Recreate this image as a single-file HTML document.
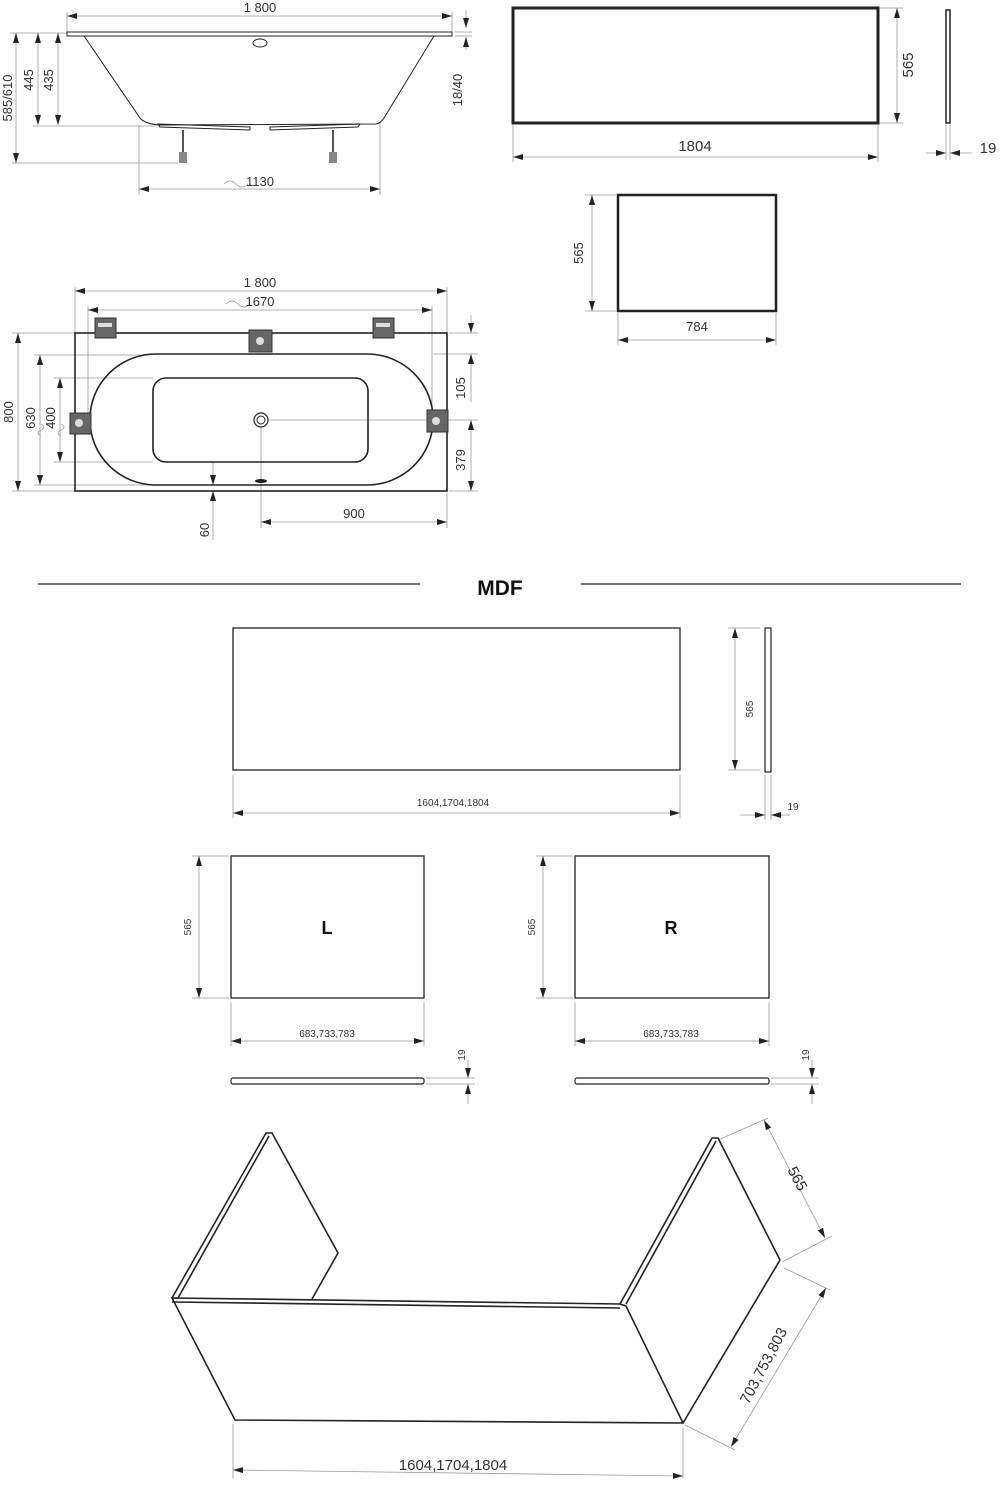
<!DOCTYPE html>
<html><head><meta charset="utf-8"><style>
body{margin:0;background:#fff}
svg{display:block}
text{font-family:"Liberation Sans",sans-serif;fill:#333}
.d{stroke:#999;stroke-width:0.8;fill:none}
.o{stroke:#222;stroke-width:1.6;fill:none}
.t{font-size:13px}
.s{font-size:10px}
</style></head><body>
<svg width="1000" height="1501" viewBox="0 0 1000 1501">
<defs>
<marker id="a" viewBox="0 0 10 6" refX="10" refY="3" markerWidth="10" markerHeight="6" orient="auto-start-reverse" markerUnits="userSpaceOnUse"><path d="M0,0L10,3L0,6z" fill="#222"/></marker>
</defs>
<g class="d">
<line x1="67" y1="16" x2="452" y2="16" marker-start="url(#a)" marker-end="url(#a)"/>
<line x1="67" y1="12" x2="67" y2="33"/><line x1="452" y1="12" x2="452" y2="33"/>
<line x1="10" y1="33" x2="67" y2="33"/>
<line x1="16" y1="33" x2="16" y2="163" marker-start="url(#a)" marker-end="url(#a)"/>
<line x1="12" y1="163" x2="178" y2="163"/>
<line x1="38" y1="33" x2="38" y2="125" marker-start="url(#a)" marker-end="url(#a)"/>
<line x1="58" y1="33" x2="58" y2="125" marker-start="url(#a)" marker-end="url(#a)"/>
<line x1="33" y1="126" x2="155" y2="126"/>
<line x1="466" y1="10" x2="466" y2="28" marker-end="url(#a)"/><line x1="466" y1="50" x2="466" y2="37" marker-end="url(#a)"/>
<line x1="455" y1="32" x2="472" y2="32"/><line x1="455" y1="36" x2="472" y2="36"/>
<line x1="139" y1="125" x2="139" y2="195"/><line x1="380" y1="122" x2="380" y2="195"/>
<line x1="139" y1="189" x2="380" y2="189" marker-start="url(#a)" marker-end="url(#a)"/>
<line x1="513" y1="125" x2="513" y2="162"/><line x1="878" y1="125" x2="878" y2="162"/>
<line x1="513" y1="157" x2="878" y2="157" marker-start="url(#a)" marker-end="url(#a)"/>
<line x1="880" y1="8" x2="903" y2="8"/><line x1="880" y1="123" x2="903" y2="123"/>
<line x1="897" y1="8" x2="897" y2="123" marker-start="url(#a)" marker-end="url(#a)"/>
<line x1="946" y1="125" x2="946" y2="160"/><line x1="950" y1="125" x2="950" y2="160"/>
<line x1="926" y1="153" x2="946" y2="153" marker-end="url(#a)"/><line x1="972" y1="153" x2="950" y2="153" marker-end="url(#a)"/>
<line x1="585" y1="195" x2="616" y2="195"/><line x1="585" y1="311" x2="616" y2="311"/>
<line x1="592" y1="195" x2="592" y2="311" marker-start="url(#a)" marker-end="url(#a)"/>
<line x1="618" y1="313" x2="618" y2="345"/><line x1="776" y1="313" x2="776" y2="345"/>
<line x1="618" y1="340" x2="776" y2="340" marker-start="url(#a)" marker-end="url(#a)"/>
<line x1="75" y1="287" x2="75" y2="333"/><line x1="447" y1="287" x2="447" y2="333"/>
<line x1="75" y1="291" x2="447" y2="291" marker-start="url(#a)" marker-end="url(#a)"/>
<line x1="88" y1="306" x2="88" y2="420"/><line x1="432" y1="306" x2="432" y2="410"/>
<line x1="88" y1="310" x2="432" y2="310" marker-start="url(#a)" marker-end="url(#a)"/>
<line x1="12" y1="333" x2="75" y2="333"/><line x1="12" y1="491" x2="75" y2="491"/>
<line x1="18" y1="333" x2="18" y2="491" marker-start="url(#a)" marker-end="url(#a)"/>
<line x1="34" y1="355" x2="150" y2="355"/><line x1="34" y1="485" x2="150" y2="485"/>
<line x1="40" y1="355" x2="40" y2="485" marker-start="url(#a)" marker-end="url(#a)"/>
<line x1="54" y1="378" x2="153" y2="378"/><line x1="54" y1="462" x2="153" y2="462"/>
<line x1="60" y1="378" x2="60" y2="462" marker-start="url(#a)" marker-end="url(#a)"/>
<line x1="449" y1="333" x2="478" y2="333"/><line x1="433" y1="354" x2="478" y2="354"/>
<line x1="471" y1="315" x2="471" y2="333" marker-end="url(#a)"/><line x1="471" y1="402" x2="471" y2="354" marker-end="url(#a)"/>
<line x1="268" y1="420" x2="478" y2="420"/><line x1="449" y1="491" x2="478" y2="491"/>
<line x1="471" y1="420" x2="471" y2="491" marker-start="url(#a)" marker-end="url(#a)"/>
<line x1="261" y1="428" x2="261" y2="528"/><line x1="447" y1="493" x2="447" y2="528"/>
<line x1="261" y1="522" x2="447" y2="522" marker-start="url(#a)" marker-end="url(#a)"/>
<line x1="213" y1="462" x2="213" y2="485" marker-end="url(#a)"/><line x1="213" y1="540" x2="213" y2="491" marker-end="url(#a)"/>
<line x1="233" y1="775" x2="233" y2="818"/><line x1="680" y1="775" x2="680" y2="818"/>
<line x1="233" y1="813" x2="680" y2="813" marker-start="url(#a)" marker-end="url(#a)"/>
<line x1="728" y1="628" x2="760" y2="628"/><line x1="728" y1="770" x2="760" y2="770"/>
<line x1="735" y1="628" x2="735" y2="770" marker-start="url(#a)" marker-end="url(#a)"/>
<line x1="765" y1="775" x2="765" y2="820"/><line x1="771" y1="775" x2="771" y2="820"/>
<line x1="740" y1="815" x2="765" y2="815" marker-end="url(#a)"/><line x1="790" y1="815" x2="771" y2="815" marker-end="url(#a)"/>
<line x1="192" y1="856" x2="229" y2="856"/><line x1="192" y1="998" x2="229" y2="998"/>
<line x1="199" y1="856" x2="199" y2="998" marker-start="url(#a)" marker-end="url(#a)"/>
<line x1="231" y1="1002" x2="231" y2="1046"/><line x1="424" y1="1002" x2="424" y2="1046"/>
<line x1="231" y1="1041" x2="424" y2="1041" marker-start="url(#a)" marker-end="url(#a)"/>
<line x1="426" y1="1078" x2="475" y2="1078"/><line x1="426" y1="1084" x2="475" y2="1084"/>
<line x1="468" y1="1060" x2="468" y2="1078" marker-end="url(#a)"/><line x1="468" y1="1104" x2="468" y2="1084" marker-end="url(#a)"/>
<line x1="536" y1="856" x2="573" y2="856"/><line x1="536" y1="998" x2="573" y2="998"/>
<line x1="543" y1="856" x2="543" y2="998" marker-start="url(#a)" marker-end="url(#a)"/>
<line x1="575" y1="1002" x2="575" y2="1046"/><line x1="769" y1="1002" x2="769" y2="1046"/>
<line x1="575" y1="1041" x2="769" y2="1041" marker-start="url(#a)" marker-end="url(#a)"/>
<line x1="771" y1="1078" x2="819" y2="1078"/><line x1="771" y1="1084" x2="819" y2="1084"/>
<line x1="812" y1="1060" x2="812" y2="1078" marker-end="url(#a)"/><line x1="812" y1="1104" x2="812" y2="1084" marker-end="url(#a)"/>
<line x1="718" y1="1140" x2="768" y2="1118"/><line x1="782" y1="1262" x2="832" y2="1236"/>
<line x1="764" y1="1120" x2="825" y2="1238" marker-start="url(#a)" marker-end="url(#a)"/>
<line x1="784" y1="1268" x2="830" y2="1290"/><line x1="685" y1="1425" x2="735" y2="1450"/>
<line x1="826" y1="1288" x2="731" y2="1447" marker-start="url(#a)" marker-end="url(#a)"/>
<line x1="233" y1="1424" x2="233" y2="1478"/><line x1="683" y1="1428" x2="683" y2="1478"/>
<line x1="233" y1="1470" x2="683" y2="1476" marker-start="url(#a)" marker-end="url(#a)"/>
</g>

<path class="o" style="stroke-width:1" d="M67,32H452V36H67Z"/>
<path class="o" style="stroke-width:1" d="M84,36L140,118Q145,124,160,125L376,124Q381,123,384,118L434,36"/>
<ellipse cx="260" cy="43" rx="7" ry="4" class="o" style="stroke-width:1"/>
<path class="o" style="stroke-width:1" d="M158,124L250,127L250,130L160,127ZM270,127L360,124L358,127L270,130Z"/>
<g stroke="#555" stroke-width="2"><line x1="183" y1="130" x2="183" y2="158"/><line x1="333" y1="130" x2="333" y2="158"/></g>
<rect x="179" y="152" width="8" height="11" fill="#888"/><rect x="329" y="152" width="8" height="11" fill="#888"/>
<path d="M224,184q6,-6 12,0t12,0" class="d"/>

<rect x="513" y="8" width="365" height="115" fill="none" stroke="#222" stroke-width="3"/>
<rect x="946" y="10" width="4" height="113" fill="none" stroke="#222" stroke-width="1.5"/>
<rect x="618" y="195" width="158" height="116" fill="none" stroke="#222" stroke-width="2.5"/>

<rect x="75" y="333" width="372" height="158" class="o"/>
<rect x="90" y="354" width="343" height="131" rx="66" ry="65" class="o"/>
<rect x="153" y="378" width="215" height="84" rx="13" class="o"/>
<circle cx="261" cy="420" r="7" class="o" style="stroke-width:1.2"/><circle cx="261" cy="420" r="4" class="o" style="stroke-width:1"/>
<ellipse cx="261" cy="481" rx="6" ry="2" fill="#222"/>
<g fill="#666" stroke="#333">
<rect x="95" y="318" width="21" height="20"/><rect x="373" y="318" width="21" height="20"/>
<rect x="249" y="330" width="23" height="22"/><rect x="70" y="413" width="21" height="21"/><rect x="427" y="410" width="21" height="22"/>
</g>
<g fill="#ddd"><rect x="98" y="323" width="14" height="4"/><rect x="376" y="323" width="14" height="4"/>
<circle cx="260" cy="341" r="4"/><circle cx="79" cy="423" r="4"/><circle cx="436" cy="421" r="4"/></g>
<path d="M55,430q3,-6 6,0t6,0" class="d" transform="rotate(-90 61 430)"/>
<path d="M35,430q3,-6 6,0t6,0" class="d" transform="rotate(-90 41 430)"/>
<path d="M226,304q6,-6 12,0t12,0" class="d"/>

<line x1="38" y1="584" x2="420" y2="584" stroke="#222" stroke-width="1.2"/>
<line x1="581" y1="584" x2="961" y2="584" stroke="#222" stroke-width="1.2"/>
<text x="500" y="595" text-anchor="middle" style="font-size:21px;font-weight:bold;fill:#111">MDF</text>
<rect x="233" y="628" width="447" height="142" class="o" style="stroke-width:1.3"/>
<rect x="765" y="628" width="6" height="144" class="o" style="stroke-width:1.2"/>
<rect x="231" y="856" width="193" height="142" class="o" style="stroke-width:1.3"/>
<rect x="575" y="856" width="194" height="142" class="o" style="stroke-width:1.3"/>
<rect x="231" y="1078" width="193" height="6" rx="2" class="o" style="stroke-width:1.2"/>
<rect x="575" y="1078" width="194" height="6" rx="2" class="o" style="stroke-width:1.2"/>
<text x="327" y="934" text-anchor="middle" style="font-size:18px;font-weight:bold;fill:#111">L</text>
<text x="671" y="934" text-anchor="middle" style="font-size:18px;font-weight:bold;fill:#111">R</text>

<g class="o">
<path d="M172,1298L266,1133L272,1133L338,1253L312,1299"/>
<path d="M178,1298L269,1136"/>
<path d="M172,1298L620,1304L626,1306L683,1423L235,1420Z"/>
<path d="M172,1302L620,1308"/>
<path d="M620,1304L712,1138L718,1138L780,1260L683,1423"/>
<path d="M626,1304L716,1141"/>
</g>

<g class="t">
<text x="260" y="12" text-anchor="middle">1 800</text>
<text x="260" y="186" text-anchor="middle">1130</text>
<text transform="translate(12,98) rotate(-90)" text-anchor="middle">585/610</text>
<text transform="translate(33,80) rotate(-90)" text-anchor="middle">445</text>
<text transform="translate(53,80) rotate(-90)" text-anchor="middle">435</text>
<text transform="translate(462,90) rotate(-90)" text-anchor="middle">18/40</text>
<text x="695" y="151" text-anchor="middle" style="font-size:15px">1804</text>
<text transform="translate(913,65) rotate(-90)" text-anchor="middle" style="font-size:15px">565</text>
<text x="988" y="153" text-anchor="middle" style="font-size:15px">19</text>
<text transform="translate(583,253) rotate(-90)" text-anchor="middle">565</text>
<text x="697" y="331" text-anchor="middle">784</text>
<text x="260" y="287" text-anchor="middle">1 800</text>
<text x="260" y="306" text-anchor="middle">1670</text>
<text transform="translate(13,412) rotate(-90)" text-anchor="middle">800</text>
<text transform="translate(35,418) rotate(-90)" text-anchor="middle">630</text>
<text transform="translate(55,418) rotate(-90)" text-anchor="middle">400</text>
<text transform="translate(465,388) rotate(-90)" text-anchor="middle">105</text>
<text transform="translate(465,460) rotate(-90)" text-anchor="middle">379</text>
<text x="354" y="518" text-anchor="middle">900</text>
<text transform="translate(209,530) rotate(-90)" text-anchor="middle">60</text>
<text x="453" y="1470" text-anchor="middle" style="font-size:15px">1604,1704,1804</text>
<text transform="translate(793,1181) rotate(62)" text-anchor="middle" style="font-size:15px">565</text>
<text transform="translate(768,1368) rotate(-62)" text-anchor="middle" style="font-size:15px">703,753,803</text>
</g>
<g class="s">
<text x="453" y="806" text-anchor="middle">1604,1704,1804</text>
<text transform="translate(753,709) rotate(-90)" text-anchor="middle">565</text>
<text x="793" y="810" text-anchor="middle">19</text>
<text transform="translate(191,927) rotate(-90)" text-anchor="middle">565</text>
<text transform="translate(535,927) rotate(-90)" text-anchor="middle">565</text>
<text x="327" y="1037" text-anchor="middle">683,733,783</text>
<text x="671" y="1037" text-anchor="middle">683,733,783</text>
<text transform="translate(465,1055) rotate(-90)" text-anchor="middle">19</text>
<text transform="translate(809,1055) rotate(-90)" text-anchor="middle">19</text>
</g>
</svg>
</body></html>
